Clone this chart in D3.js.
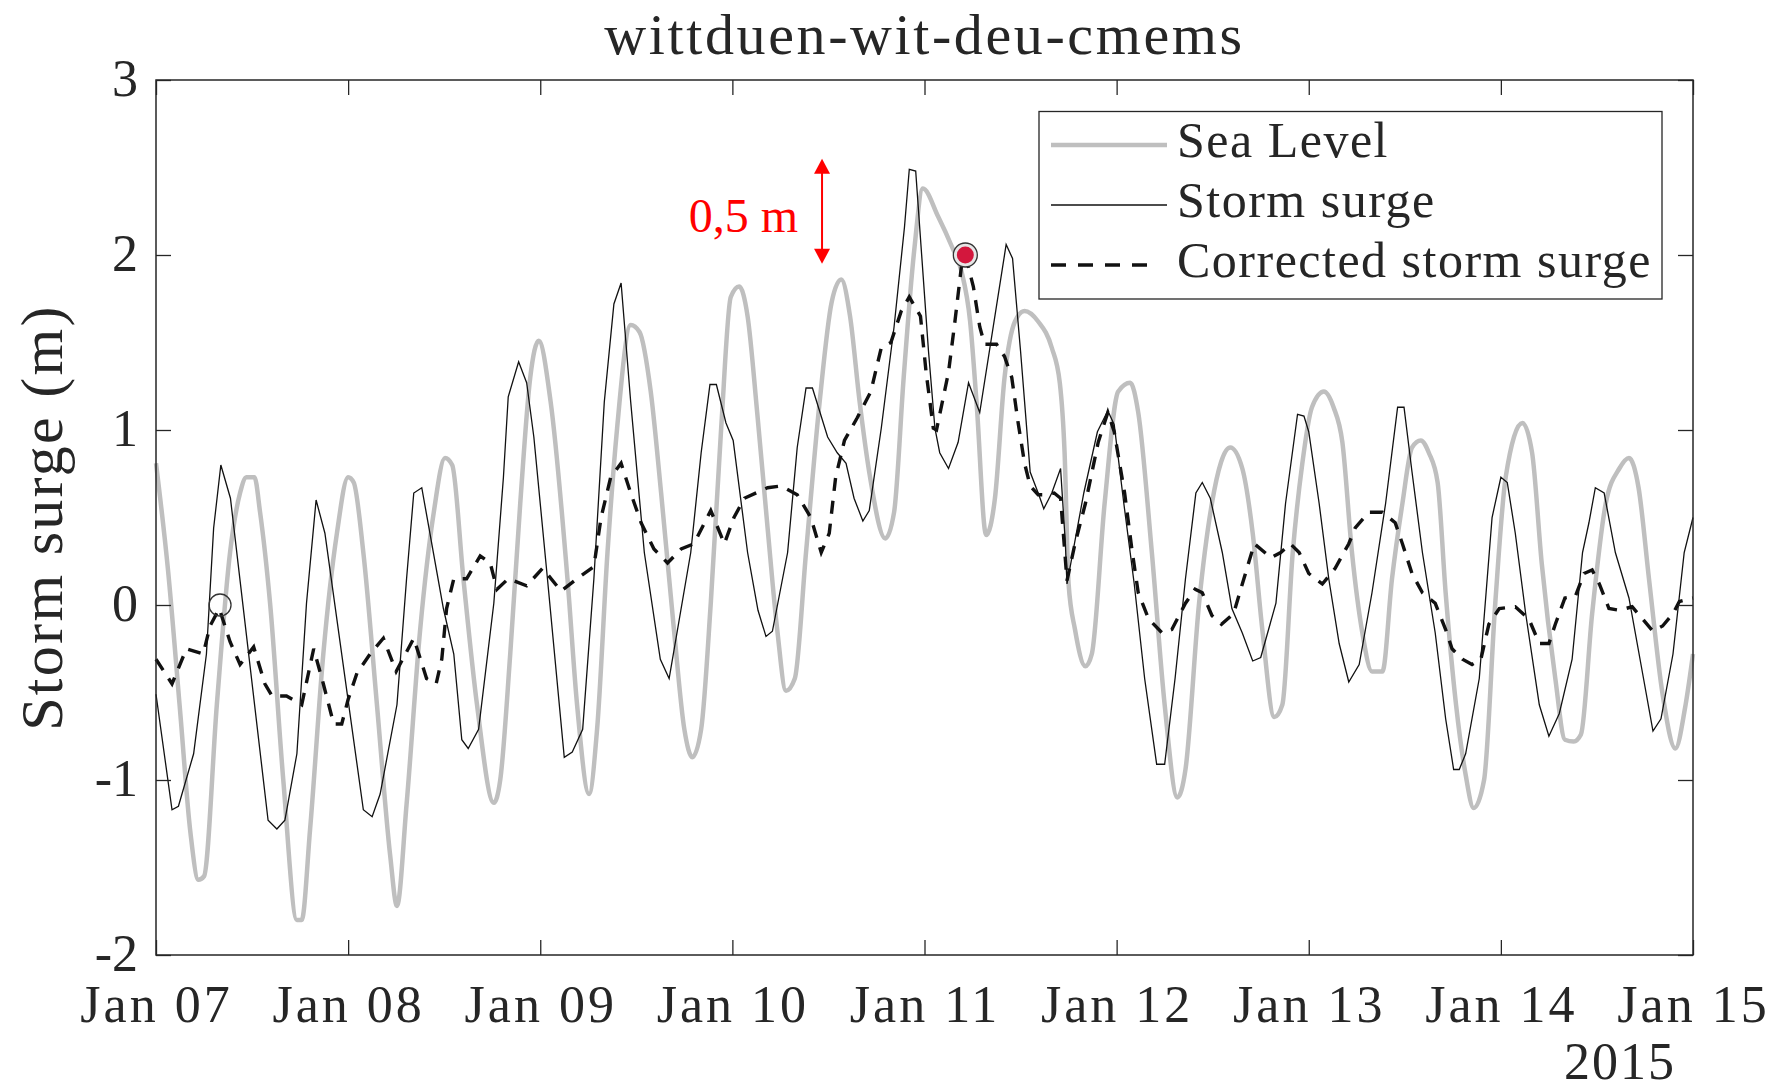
<!DOCTYPE html>
<html>
<head>
<meta charset="utf-8">
<script src="https://cdn.jsdelivr.net/npm/d3@7"></script>
<style>
  body { margin: 0; background: #fff; }
  text { font-family: 'Liberation Serif', 'Times New Roman', serif; fill: #262626; }
</style>
</head>
<body>
<div id="chart"></div>
<script>
// hours after 2015-01-07 00:00 UTC, value in metres
let seaLevel = [[0,0.81],[1.5,0.2],[3,-0.6],[4.3,-1.3],[5.3,-1.57],[6,-1.55],[7.6,-0.57],[9.25,0.3],[10.5,0.64],[11.3,0.73],[12.3,0.73],[13,0.53],[14.25,0.01],[15.9,-1.0],[17.6,-1.8],[18.2,-1.8],[19.25,-1.28],[20.9,-0.28],[22.6,0.41],[24,0.73],[24.7,0.7],[25.9,0.3],[27.6,-0.57],[29.25,-1.43],[30.1,-1.72],[31.3,-1.14],[33,-0.14],[34.7,0.53],[36.1,0.84],[37,0.8],[38.4,0.15],[40.1,-0.57],[42.2,-1.13],[43,-1.0],[44.25,-0.28],[45.5,0.58],[46.75,1.3],[47.8,1.51],[49.3,1.16],[51.4,0.15],[52.6,-0.57],[54.1,-1.08],[55.1,-0.71],[56.4,0.3],[57.6,1.01],[59.3,1.6],[60.4,1.56],[61.8,1.22],[63.1,0.64],[64.7,-0.14],[66,-0.71],[67,-0.87],[68.1,-0.71],[69.3,0.01],[70.6,1.01],[71.8,1.76],[72.85,1.82],[73.9,1.65],[75.1,1.1],[76.4,0.44],[77.6,-0.14],[78.7,-0.49],[79.8,-0.42],[81.2,0.3],[82.9,1.16],[84.4,1.73],[85.6,1.86],[86.7,1.65],[87.9,1.16],[89.2,0.73],[91.1,0.38],[92.2,0.53],[93.4,1.3],[94.7,2.02],[95.8,2.38],[97.7,2.22],[99.4,2.05],[100.6,1.91],[101.7,1.62],[102.5,1.16],[103.7,0.4],[104.8,0.61],[106,1.3],[107.3,1.62],[108.5,1.68],[110.2,1.62],[111.9,1.47],[112.9,1.27],[113.5,0.87],[114,0.12],[114.8,-0.14],[116.1,-0.35],[116.9,-0.28],[118.5,0.58],[120.2,1.22],[121.7,1.27],[122.7,1.1],[124.4,0.3],[126,-0.57],[127.6,-1.1],[128.6,-0.94],[130.3,0.01],[131.9,0.58],[134.2,0.9],[135.7,0.78],[137,0.41],[138.2,-0.14],[139.7,-0.64],[140.7,-0.57],[142,0.3],[143.2,0.81],[144.4,1.13],[145.9,1.22],[147.1,1.13],[148.2,0.93],[149.4,0.3],[150.7,-0.16],[151.9,-0.38],[153.2,-0.38],[154.4,0.15],[155.7,0.58],[156.9,0.9],[158,0.94],[159,0.87],[160.1,0.7],[161.1,0.07],[162.4,-0.57],[163.6,-0.97],[164.6,-1.16],[165.9,-1.0],[167.3,0.01],[168.6,0.73],[170.7,1.04],[171.9,0.87],[173.1,0.24],[174.8,-0.42],[176,-0.77],[177.1,-0.78],[178,-0.74],[179.4,-0.05],[181.1,0.58],[182.8,0.78],[184,0.84],[185.2,0.67],[186.5,0.15],[188.2,-0.51],[189.8,-0.82],[191,-0.59],[192,-0.28]]

let stormSurge = [[0,-0.51],[2,-1.17],[2.8,-1.15],[4.7,-0.85],[6.3,-0.28],[7.2,0.44],[8.1,0.8],[9.3,0.61],[14,-1.23],[15.1,-1.28],[16.1,-1.23],[17.6,-0.85],[18.8,0.01],[20,0.6],[21.1,0.41],[25.9,-1.17],[27,-1.21],[28,-1.08],[30.1,-0.57],[31.3,0.15],[32.2,0.64],[33.2,0.67],[35.9,-0.02],[37.2,-0.28],[38.2,-0.77],[39,-0.82],[40.3,-0.71],[42.2,0.01],[43.4,0.73],[44,1.19],[45.3,1.39],[46.3,1.27],[47.2,0.96],[48.9,0.15],[51,-0.87],[52,-0.84],[53.3,-0.71],[54.7,0.15],[56,1.16],[57.2,1.72],[58.1,1.84],[59.3,1.16],[61,0.3],[63,-0.31],[64.1,-0.42],[66.8,0.3],[68.1,0.87],[69.2,1.26],[70,1.26],[71.2,1.04],[72.1,0.94],[73.9,0.3],[75.2,-0.03],[76.2,-0.18],[77,-0.15],[78.9,0.3],[80.1,0.9],[81.2,1.24],[82,1.24],[83.9,0.96],[85.1,0.87],[86.2,0.81],[87.2,0.61],[88.3,0.48],[89.1,0.54],[90.6,1.01],[92.2,1.59],[93.5,2.16],[94.1,2.49],[94.9,2.48],[96.5,1.45],[97.3,1.01],[97.9,0.87],[99,0.78],[100.2,0.93],[101.5,1.27],[102.9,1.1],[106.2,2.06],[107,1.98],[108,1.45],[109.2,0.76],[110.2,0.64],[110.9,0.55],[111.9,0.64],[113,0.78],[113.6,0.35],[113.8,0.12],[115.9,0.64],[117.6,0.99],[118.9,1.11],[119.7,1.03],[120.9,0.58],[122.2,0.12],[123.5,-0.42],[125,-0.91],[126,-0.91],[127.3,-0.42],[128.6,0.15],[129.9,0.64],[130.7,0.7],[131.7,0.61],[133.2,0.3],[134.4,-0.02],[135.7,-0.16],[137,-0.32],[138,-0.3],[139.9,0.01],[141.1,0.58],[142.6,1.09],[143.4,1.08],[144,0.99],[145.3,0.58],[146.5,0.15],[147.8,-0.22],[149,-0.44],[150.3,-0.34],[151.9,0.07],[153.6,0.58],[155.1,1.13],[155.9,1.13],[156.9,0.76],[158.2,0.3],[159.8,-0.16],[161.1,-0.65],[162.1,-0.94],[162.8,-0.94],[163.6,-0.85],[165.3,-0.42],[166.9,0.5],[168,0.73],[168.8,0.7],[169.8,0.41],[171.1,-0.05],[172.8,-0.57],[174,-0.75],[175.3,-0.62],[176.9,-0.31],[178.2,0.3],[179,0.47],[179.8,0.67],[180.9,0.64],[182.3,0.3],[184,0.04],[185.7,-0.39],[187,-0.72],[188,-0.65],[189.5,-0.28],[190.9,0.3],[192,0.5]]

let corrected = [[0,-0.31],[2,-0.45],[3.8,-0.25],[5.9,-0.28],[6.75,-0.12],[7.9,-0.02],[9.25,-0.21],[10.5,-0.34],[12.2,-0.24],[13.6,-0.45],[14.5,-0.52],[16.3,-0.52],[18.2,-0.57],[19.7,-0.25],[20.9,-0.45],[22.2,-0.68],[23.2,-0.68],[24,-0.54],[25.1,-0.39],[26.75,-0.28],[28.4,-0.19],[30,-0.38],[32.2,-0.19],[33.8,-0.42],[35,-0.45],[35.7,-0.31],[36.3,-0.02],[37.2,0.15],[38.8,0.15],[40.5,0.28],[41.75,0.24],[42.6,0.09],[44,0.15],[46.3,0.11],[48.3,0.21],[50.6,0.08],[52.6,0.15],[54.7,0.22],[55.6,0.5],[56.8,0.73],[58.1,0.81],[59.3,0.64],[60.6,0.47],[62.2,0.32],[63.9,0.24],[65.6,0.32],[67.2,0.35],[69.3,0.54],[71,0.35],[72.2,0.5],[73.5,0.61],[76.4,0.67],[78.1,0.68],[80.1,0.63],[81.8,0.5],[83.1,0.3],[84.1,0.41],[84.9,0.73],[86,0.94],[87.6,1.07],[89.3,1.22],[90.6,1.47],[91.8,1.5],[93.1,1.68],[94.1,1.76],[95.5,1.65],[96.2,1.33],[97.1,1.01],[97.5,1.0],[99,1.33],[99.8,1.62],[100.6,1.93],[101.1,2.0],[102.1,1.82],[102.9,1.59],[103.5,1.49],[105,1.49],[106,1.42],[106.9,1.3],[107.7,1.04],[108.5,0.81],[109.2,0.68],[110.2,0.63],[111,0.63],[112.2,0.64],[113,0.61],[113.8,0.14],[114.8,0.35],[116.1,0.58],[117.7,0.93],[118.9,1.1],[119.7,0.99],[121,0.64],[121.9,0.32],[122.7,0.07],[124,-0.08],[125.7,-0.16],[126.9,-0.14],[128.6,0.01],[129.8,0.09],[130.7,0.07],[131.9,-0.06],[133.1,-0.11],[134.6,-0.05],[135.7,0.12],[137.2,0.35],[139.3,0.27],[140.5,0.3],[141.7,0.35],[142.8,0.3],[144,0.18],[145.7,0.12],[147.3,0.21],[149,0.35],[149.8,0.44],[151.5,0.53],[153.2,0.53],[154.8,0.47],[155.7,0.35],[156.9,0.18],[158.2,0.07],[159.8,0.01],[161.1,-0.14],[161.9,-0.25],[163.2,-0.31],[164.4,-0.34],[165.5,-0.31],[166.5,-0.11],[167.8,-0.02],[169.8,-0.01],[171.5,-0.08],[172.8,-0.22],[174,-0.22],[174.8,-0.11],[176,0.04],[177.3,0.05],[178.4,0.18],[179.4,0.2],[180.3,0.12],[181.5,-0.02],[182.8,-0.03],[184.4,-0.01],[185.7,-0.08],[187,-0.15],[188.2,-0.12],[189.5,-0.05],[190.3,0.02],[192,0.04]]

// circled points: [hour, value]
let openMark = [8, 0]
let redMark = [101.1, 2.0]
// the "0,5 m" arrow: [hour, from, to]
let arrowMark = [83.2, 1.95, 2.55]

let yTicks = [-2, -1, 0, 1, 2, 3]
let legendNames = ['Sea Level', 'Storm surge', 'Corrected storm surge']

let width = 1789,
  height = 1092
let margin = { left: 156, right: 96, top: 80, bottom: 137 }

let t0 = Date.UTC(2015, 0, 7)
let toDate = h => new Date(t0 + h * 3600e3)

let svg = d3.select('#chart')
  .append('svg')
  .attr('width', width)
  .attr('height', height)

let x = d3.scaleUtc()
  .domain([toDate(0), toDate(192)])
  .range([margin.left, width - margin.right])

let y = d3.scaleLinear()
  .domain([-2, 3])
  .range([height - margin.bottom, margin.top])

let line = d3.line()
  .x(d => x(toDate(d[0])))
  .y(d => y(d[1]))

// series
svg.append('path')
  .datum(seaLevel)
  .attr('fill', 'none')
  .attr('stroke', '#bfbfbf')
  .attr('stroke-width', 4.5)
  .attr('stroke-linejoin', 'round')
  .attr('d', line.curve(d3.curveMonotoneX))

svg.append('path')
  .datum(stormSurge)
  .attr('fill', 'none')
  .attr('stroke', '#111')
  .attr('stroke-width', 1.3)
  .attr('d', line.curve(d3.curveLinear))

svg.append('path')
  .datum(corrected)
  .attr('fill', 'none')
  .attr('stroke', '#111')
  .attr('stroke-width', 3.4)
  .attr('stroke-dasharray', '13,10')
  .attr('d', line.curve(d3.curveLinear))

// markers
svg.append('circle')
  .attr('cx', x(toDate(openMark[0])))
  .attr('cy', y(openMark[1]))
  .attr('r', 11)
  .attr('fill', 'none')
  .attr('stroke', '#333')
  .attr('stroke-width', 1.3)

svg.append('circle')
  .attr('cx', x(toDate(redMark[0])))
  .attr('cy', y(redMark[1]))
  .attr('r', 12)
  .attr('fill', '#e6e6e6')
  .attr('stroke', '#333')
  .attr('stroke-width', 1.3)
svg.append('circle')
  .attr('cx', x(toDate(redMark[0])))
  .attr('cy', y(redMark[1]))
  .attr('r', 8.5)
  .attr('fill', '#d3173d')

// axes (ticks inside on all four sides)
let xAxis = d3.axisBottom(x)
  .ticks(d3.utcDay.every(1))
  .tickFormat(d3.utcFormat('%b %d'))
  .tickSize(-15)

let gx = svg.append('g')
  .attr('transform', `translate(0,${height - margin.bottom})`)
  .call(xAxis)
gx.selectAll('text')
  .attr('y', 67)
  .attr('dy', null)
  .style('font-size', '52px')
  .style('letter-spacing', '3px')
  .attr('fill', '#262626')

svg.append('g')
  .attr('transform', `translate(0,${margin.top})`)
  .call(d3.axisTop(x).ticks(d3.utcDay.every(1)).tickSize(-15).tickFormat(''))

let gy = svg.append('g')
  .attr('transform', `translate(${margin.left},0)`)
  .call(d3.axisLeft(y).tickValues(yTicks).tickSize(-15).tickFormat(d => String(d)))
gy.selectAll('text')
  .attr('x', -18)
  .attr('dy', '0.3em')
  .style('font-size', '52px')
  .attr('fill', '#262626')

svg.append('g')
  .attr('transform', `translate(${width - margin.right},0)`)
  .call(d3.axisRight(y).tickValues(yTicks).tickSize(-15).tickFormat(''))

svg.selectAll('.domain').remove()
svg.selectAll('.tick line')
  .attr('stroke', '#262626')
  .attr('stroke-width', 1.3)

svg.append('rect')
  .attr('x', margin.left)
  .attr('y', margin.top)
  .attr('width', width - margin.left - margin.right)
  .attr('height', height - margin.top - margin.bottom)
  .attr('fill', 'none')
  .attr('stroke', '#262626')
  .attr('stroke-width', 1.5)

// year under the last tick
svg.append('text')
  .attr('x', 1620)
  .attr('y', 1079)
  .attr('text-anchor', 'middle')
  .style('font-size', '52px')
  .style('letter-spacing', '2px')
  .text('2015')

// title and y label
svg.append('text')
  .attr('x', (margin.left + width - margin.right) / 2)
  .attr('y', 54)
  .attr('text-anchor', 'middle')
  .style('font-size', '58px')
  .style('letter-spacing', '2.6px')
  .text('wittduen-wit-deu-cmems')

svg.append('text')
  .attr('transform', `translate(62,${(margin.top + height - margin.bottom) / 2}) rotate(-90)`)
  .attr('text-anchor', 'middle')
  .style('font-size', '60px')
  .style('letter-spacing', '2.3px')
  .text('Storm surge (m)')

// legend
let legend = svg.append('g')
legend.append('rect')
  .attr('x', 1039)
  .attr('y', 111.5)
  .attr('width', 623)
  .attr('height', 187.5)
  .attr('fill', '#fff')
  .attr('stroke', '#262626')
  .attr('stroke-width', 1.3)

let legendStyle = [
  { stroke: '#bfbfbf', w: 4.5, dash: null },
  { stroke: '#111', w: 1.3, dash: null },
  { stroke: '#111', w: 3.4, dash: '15,12' }
]
legendNames.forEach((name, i) => {
  let ly = 145 + i * 60
  legend.append('line')
    .attr('x1', 1051)
    .attr('x2', i == 2 ? 1154 : 1167)
    .attr('y1', ly)
    .attr('y2', ly)
    .attr('stroke', legendStyle[i].stroke)
    .attr('stroke-width', legendStyle[i].w)
    .attr('stroke-dasharray', legendStyle[i].dash)
  legend.append('text')
    .attr('x', 1177)
    .attr('y', ly + 12)
    .style('font-size', '50px')
    .style('letter-spacing', '1.5px')
    .text(name)
})

// red "0,5 m" annotation
let ax = x(toDate(arrowMark[0])),
  aTop = y(arrowMark[2]),
  aBot = y(arrowMark[1])
let ann = svg.append('g')
ann.append('line')
  .attr('x1', ax).attr('x2', ax)
  .attr('y1', aTop + 12).attr('y2', aBot - 12)
  .attr('stroke', '#ff0000')
  .attr('stroke-width', 2)
ann.append('path')
  .attr('d', `M${ax},${aTop} L${ax - 8},${aTop + 15} L${ax + 8},${aTop + 15} Z`)
  .attr('fill', '#ff0000')
ann.append('path')
  .attr('d', `M${ax},${aBot} L${ax - 8},${aBot - 15} L${ax + 8},${aBot - 15} Z`)
  .attr('fill', '#ff0000')
ann.append('text')
  .attr('x', ax - 24)
  .attr('y', (aTop + aBot) / 2 + 21)
  .attr('text-anchor', 'end')
  .style('font-size', '48px')
  .style('fill', '#ff0000')
  .text('0,5 m')
</script>
</body>
</html>
